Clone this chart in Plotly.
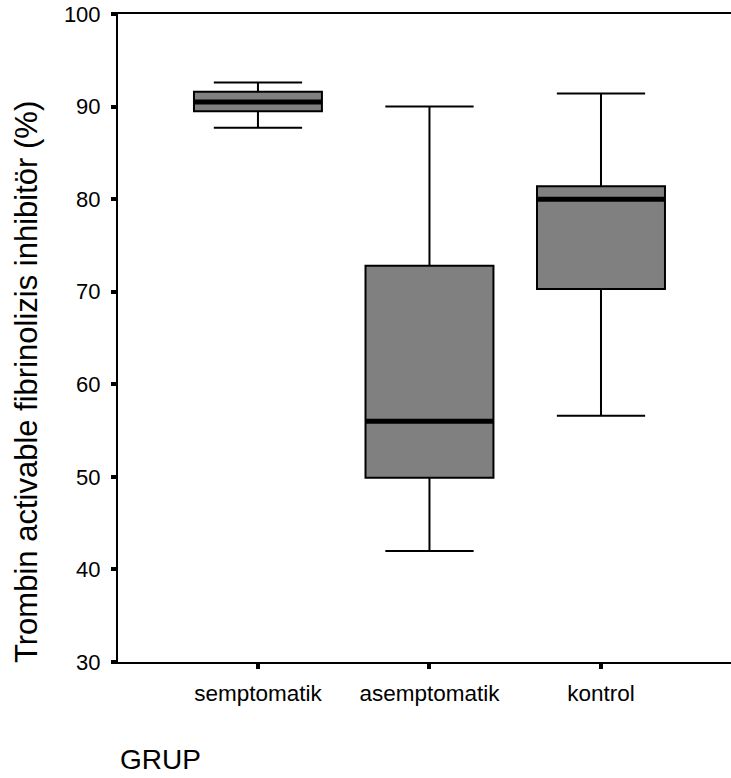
import plotly.graph_objects as go

# Group names and box-plot summary statistics (%)
groups = ["semptomatik", "asemptomatik", "kontrol"]
lower_whisker = [87.7, 42.0, 56.6]
q1 = [89.5, 49.9, 70.3]
median = [90.5, 56.0, 80.0]
q3 = [91.6, 72.8, 81.4]
upper_whisker = [92.6, 90.0, 91.4]

y_ticks = [30, 40, 50, 60, 70, 80, 90, 100]

box_width = 0.746
font_family = "Liberation Sans, Arial, sans-serif"

fig = go.Figure()

for i, g in enumerate(groups):
    fig.add_trace(go.Box(
        x=[i],
        q1=[q1[i]],
        median=[median[i]],
        q3=[q3[i]],
        lowerfence=[lower_whisker[i]],
        upperfence=[upper_whisker[i]],
        width=box_width,
        whiskerwidth=0.69,
        fillcolor="#808080",
        line=dict(color="black", width=2),
        boxpoints=False,
        hoverinfo="skip",
        name=g,
        showlegend=False,
    ))
    # thick median bar
    fig.add_shape(
        type="line", xref="x", yref="y",
        x0=i - box_width / 2, x1=i + box_width / 2,
        y0=median[i], y1=median[i],
        line=dict(color="black", width=5),
    )

fig.update_layout(
    width=731, height=778,
    margin=dict(l=118, r=0, t=14, b=116),
    paper_bgcolor="white",
    plot_bgcolor="white",
    font=dict(family=font_family, color="black", size=22),
    showlegend=False,
    xaxis=dict(
        range=[-0.816, 2.758],
        tickmode="array",
        tickvals=list(range(len(groups))),
        ticktext=groups,
        showline=True, linecolor="black", linewidth=2,
        mirror=True,
        ticks="outside", ticklen=5, tickwidth=4, tickcolor="black",
        showgrid=False, zeroline=False,
        tickfont=dict(size=22.5),
        ticklabelstandoff=5,
    ),
    yaxis=dict(
        range=[30, 100],
        tickmode="array",
        tickvals=y_ticks,
        showline=True, linecolor="black", linewidth=2,
        ticks="outside", ticklen=5, tickwidth=4, tickcolor="black",
        showgrid=False, zeroline=False,
        tickfont=dict(size=22),
        ticklabelstandoff=6,
    ),
    annotations=[
        dict(
            text="Trombin activable fibrinolizis inhibitör (%)",
            xref="paper", yref="paper",
            x=-118 / 613 + 26 / 613, y=(662 - 382) / 648,
            xanchor="center", yanchor="middle",
            textangle=-90, showarrow=False,
            font=dict(size=31),
        ),
        dict(
            text="GRUP",
            xref="paper", yref="paper",
            x=0.0, y=-(759 - 662) / 648,
            xanchor="left", yanchor="middle",
            showarrow=False,
            font=dict(size=28),
        ),
    ],
)

fig.write_html("out.html")
